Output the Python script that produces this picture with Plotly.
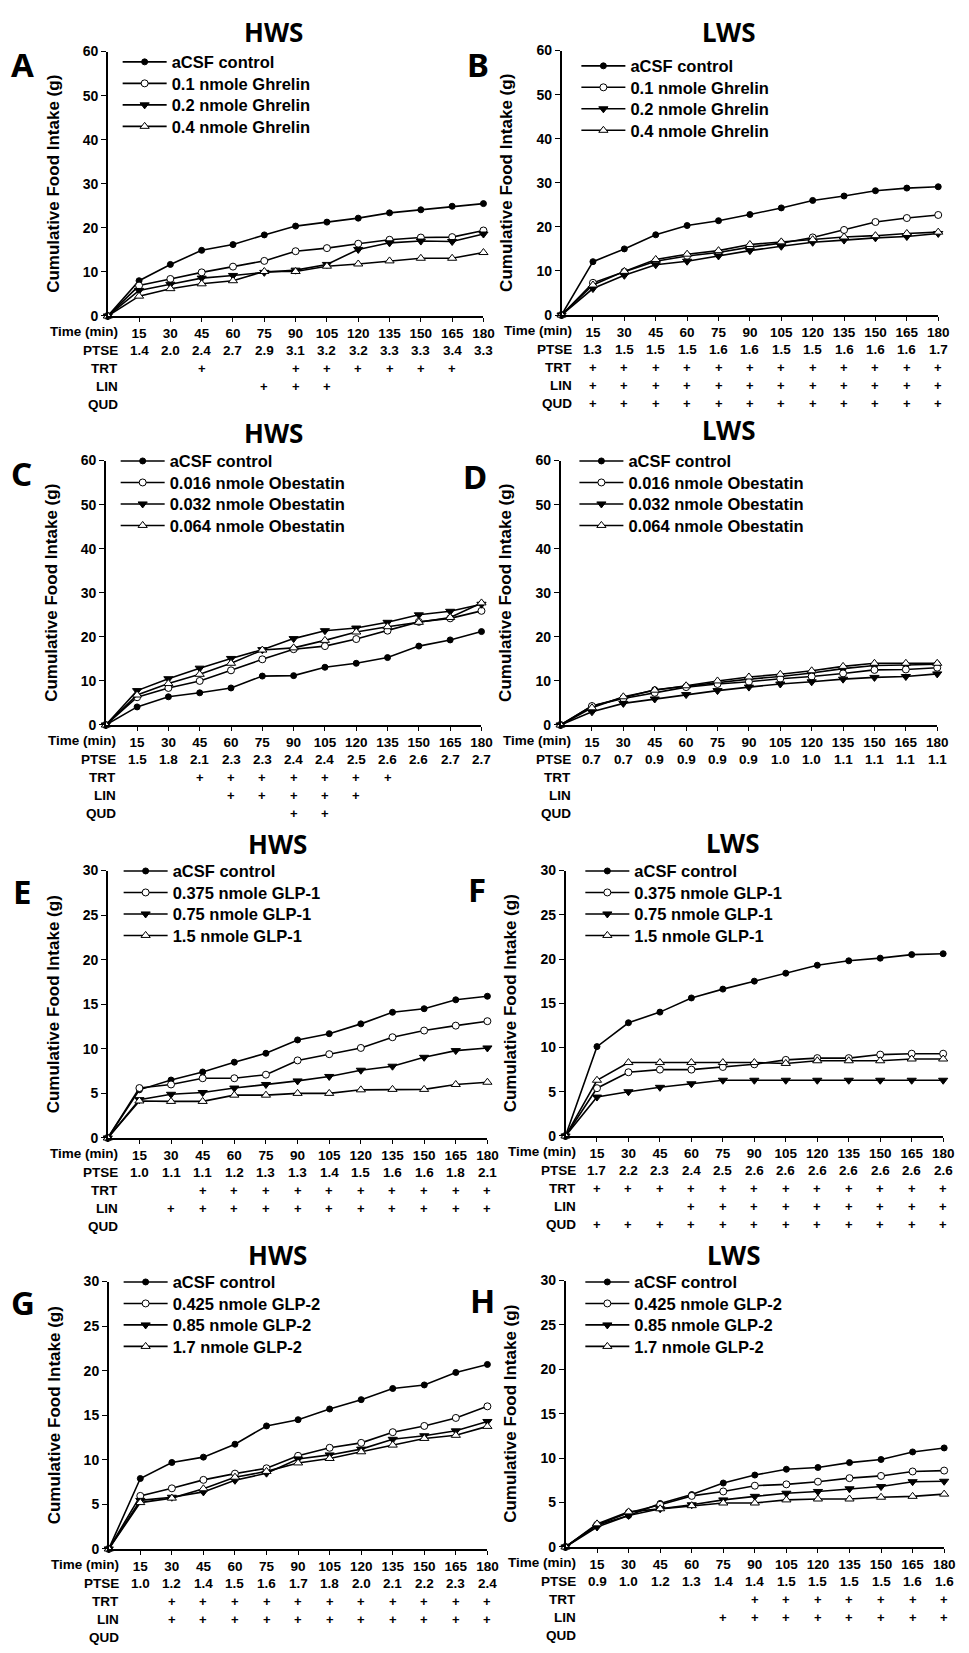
import plotly.graph_objects as go

W, H = 969, 1653

# ---------------- data ----------------
times = [0, 15, 30, 45, 60, 75, 90, 105, 120, 135, 150, 165, 180]
time_labels = ["15", "30", "45", "60", "75", "90", "105", "120", "135", "150", "165", "180"]
row_labels = ["Time (min)", "PTSE", "TRT", "LIN", "QUD"]

ghrelin_names = ["aCSF control", "0.1 nmole Ghrelin", "0.2 nmole Ghrelin", "0.4 nmole Ghrelin"]
obestatin_names = ["aCSF control", "0.016 nmole Obestatin", "0.032 nmole Obestatin", "0.064 nmole Obestatin"]
glp1_names = ["aCSF control", "0.375 nmole GLP-1", "0.75 nmole GLP-1", "1.5 nmole GLP-1"]
glp2_names = ["aCSF control", "0.425 nmole GLP-2", "0.85 nmole GLP-2", "1.7 nmole GLP-2"]

# Panel A (HWS, Ghrelin)
A_ctrl = [0, 8.0, 11.7, 14.9, 16.2, 18.4, 20.4, 21.3, 22.2, 23.4, 24.1, 24.9, 25.5]
A_d1 = [0, 6.9, 8.4, 9.9, 11.2, 12.5, 14.7, 15.4, 16.4, 17.3, 17.8, 17.9, 19.4]
A_d2 = [0, 5.8, 7.2, 8.6, 9.2, 9.9, 10.4, 11.7, 15.1, 16.6, 17.0, 16.9, 18.6]
A_d3 = [0, 4.5, 6.2, 7.3, 8.0, 10.1, 10.1, 11.3, 11.8, 12.5, 13.1, 13.1, 14.4]
A_ptse = ["1.4", "2.0", "2.4", "2.7", "2.9", "3.1", "3.2", "3.2", "3.3", "3.3", "3.4", "3.3"]
A_trt = [45, 90, 105, 120, 135, 150, 165]
A_lin = [75, 90, 105]
A_qud = []

# Panel B (LWS, Ghrelin)
B_ctrl = [0, 12.1, 15.0, 18.2, 20.3, 21.4, 22.8, 24.3, 26.0, 27.0, 28.2, 28.8, 29.1]
B_d1 = [0, 7.3, 9.8, 12.2, 13.4, 14.2, 15.4, 16.3, 17.6, 19.3, 21.1, 22.0, 22.7]
B_d2 = [0, 6.0, 9.0, 11.4, 12.2, 13.4, 14.6, 15.6, 16.5, 17.0, 17.5, 17.8, 18.5]
B_d3 = [0, 6.8, 9.9, 12.6, 13.8, 14.6, 16.0, 16.6, 17.1, 17.7, 18.0, 18.5, 18.8]
B_ptse = ["1.3", "1.5", "1.5", "1.5", "1.6", "1.6", "1.5", "1.5", "1.6", "1.6", "1.6", "1.7"]
B_trt = [15, 30, 45, 60, 75, 90, 105, 120, 135, 150, 165, 180]
B_lin = [15, 30, 45, 60, 75, 90, 105, 120, 135, 150, 165, 180]
B_qud = [15, 30, 45, 60, 75, 90, 105, 120, 135, 150, 165, 180]

# Panel C (HWS, Obestatin)
C_ctrl = [0, 4.1, 6.4, 7.3, 8.4, 11.1, 11.2, 13.1, 14.0, 15.3, 17.9, 19.3, 21.2]
C_d1 = [0, 6.3, 8.4, 10.0, 12.4, 14.9, 17.2, 17.9, 19.5, 21.4, 23.4, 24.2, 25.9]
C_d2 = [0, 7.8, 10.5, 12.9, 15.1, 17.1, 19.6, 21.4, 22.0, 23.3, 25.0, 25.8, 27.4]
C_d3 = [0, 6.8, 9.4, 11.5, 14.0, 17.0, 17.5, 19.2, 21.1, 22.3, 23.3, 24.4, 27.7]
C_ptse = ["1.5", "1.8", "2.1", "2.3", "2.3", "2.4", "2.4", "2.5", "2.6", "2.6", "2.7", "2.7"]
C_trt = [45, 60, 75, 90, 105, 120, 135]
C_lin = [60, 75, 90, 105, 120]
C_qud = [90, 105]

# Panel D (LWS, Obestatin)
D_ctrl = [0, 4.3, 6.2, 8.0, 8.8, 9.6, 10.4, 11.0, 11.8, 12.8, 13.5, 13.6, 13.8]
D_d1 = [0, 4.3, 6.0, 7.3, 8.6, 9.3, 9.8, 10.5, 11.0, 11.7, 12.5, 12.6, 13.0]
D_d2 = [0, 3.0, 4.9, 5.9, 6.9, 7.8, 8.6, 9.3, 9.8, 10.4, 10.8, 11.0, 11.6]
D_d3 = [0, 3.9, 6.4, 7.9, 8.9, 10.0, 10.9, 11.5, 12.3, 13.3, 14.0, 14.0, 14.0]
D_ptse = ["0.7", "0.7", "0.9", "0.9", "0.9", "0.9", "1.0", "1.0", "1.1", "1.1", "1.1", "1.1"]
D_trt = []
D_lin = []
D_qud = []

# Panel E (HWS, GLP-1)
E_ctrl = [0, 5.4, 6.5, 7.4, 8.5, 9.5, 11.0, 11.7, 12.8, 14.1, 14.5, 15.5, 15.9]
E_d1 = [0, 5.6, 6.0, 6.7, 6.7, 7.1, 8.7, 9.4, 10.1, 11.3, 12.05, 12.6, 13.1]
E_d2 = [0, 4.3, 4.9, 5.1, 5.6, 6.0, 6.4, 6.9, 7.6, 8.05, 9.05, 9.8, 10.1]
E_d3 = [0, 4.15, 4.1, 4.1, 4.8, 4.8, 5.0, 5.0, 5.4, 5.45, 5.45, 6.0, 6.25]
E_ptse = ["1.0", "1.1", "1.1", "1.2", "1.3", "1.3", "1.4", "1.5", "1.6", "1.6", "1.8", "2.1"]
E_trt = [45, 60, 75, 90, 105, 120, 135, 150, 165, 180]
E_lin = [30, 45, 60, 75, 90, 105, 120, 135, 150, 165, 180]
E_qud = []

# Panel F (LWS, GLP-1)
F_ctrl = [0, 10.1, 12.8, 14.0, 15.6, 16.6, 17.5, 18.4, 19.3, 19.8, 20.1, 20.5, 20.6]
F_d1 = [0, 5.4, 7.2, 7.5, 7.5, 7.8, 8.1, 8.6, 8.8, 8.8, 9.2, 9.3, 9.3]
F_d2 = [0, 4.4, 5.0, 5.5, 5.9, 6.3, 6.3, 6.3, 6.3, 6.3, 6.3, 6.3, 6.3]
F_d3 = [0, 6.3, 8.3, 8.3, 8.3, 8.3, 8.3, 8.2, 8.5, 8.5, 8.5, 8.7, 8.7]
F_ptse = ["1.7", "2.2", "2.3", "2.4", "2.5", "2.6", "2.6", "2.6", "2.6", "2.6", "2.6", "2.6"]
F_trt = [15, 30, 45, 60, 75, 90, 105, 120, 135, 150, 165, 180]
F_lin = [60, 75, 90, 105, 120, 135, 150, 165, 180]
F_qud = [15, 30, 45, 60, 75, 90, 105, 120, 135, 150, 165, 180]

# Panel G (HWS, GLP-2)
G_ctrl = [0, 7.9, 9.7, 10.3, 11.75, 13.8, 14.5, 15.7, 16.75, 18.0, 18.4, 19.8, 20.7]
G_d1 = [0, 5.95, 6.8, 7.75, 8.45, 9.05, 10.45, 11.35, 11.9, 13.1, 13.8, 14.7, 16.0]
G_d2 = [0, 5.45, 5.8, 6.4, 7.7, 8.5, 10.1, 10.55, 11.2, 12.3, 12.7, 13.25, 14.3]
G_d3 = [0, 5.2, 5.7, 6.75, 8.05, 8.7, 9.65, 10.15, 10.9, 11.65, 12.4, 12.75, 13.75]
G_ptse = ["1.0", "1.2", "1.4", "1.5", "1.6", "1.7", "1.8", "2.0", "2.1", "2.2", "2.3", "2.4"]
G_trt = [30, 45, 60, 75, 90, 105, 120, 135, 150, 165, 180]
G_lin = [30, 45, 60, 75, 90, 105, 120, 135, 150, 165, 180]
G_qud = []

# Panel H (LWS, GLP-2)
H_ctrl = [0, 2.45, 3.55, 4.9, 5.9, 7.2, 8.1, 8.75, 8.95, 9.5, 9.85, 10.7, 11.15]
H_d1 = [0, 2.5, 3.85, 4.75, 5.75, 6.25, 6.9, 7.05, 7.35, 7.75, 8.0, 8.5, 8.6]
H_d2 = [0, 2.25, 3.55, 4.3, 4.75, 5.3, 5.7, 6.05, 6.25, 6.55, 6.8, 7.35, 7.4]
H_d3 = [0, 2.6, 3.95, 4.3, 4.65, 4.95, 4.95, 5.3, 5.4, 5.4, 5.6, 5.7, 5.95]
H_ptse = ["0.9", "1.0", "1.2", "1.3", "1.4", "1.4", "1.5", "1.5", "1.5", "1.5", "1.6", "1.6"]
H_trt = [90, 105, 120, 135, 150, 165, 180]
H_lin = [75, 90, 105, 120, 135, 150, 165, 180]
H_qud = []

# ---------------- layout (pixel positions) ----------------
panels = [
    dict(letter="A", title="HWS", names=ghrelin_names, series=[A_ctrl, A_d1, A_d2, A_d3],
         ptse=A_ptse, marks=[A_trt, A_lin, A_qud], ymax=60, dtick=10,
         box=(109, 489, 44, 311), letter_xy=(23, 57), title_xy=(277, 24), leg_xy=(173, 55)),
    dict(letter="B", title="LWS", names=ghrelin_names, series=[B_ctrl, B_d1, B_d2, B_d3],
         ptse=B_ptse, marks=[B_trt, B_lin, B_qud], ymax=60, dtick=10,
         box=(568, 949, 43, 310), letter_xy=(483, 57), title_xy=(737, 24), leg_xy=(637, 59)),
    dict(letter="C", title="HWS", names=obestatin_names, series=[C_ctrl, C_d1, C_d2, C_d3],
         ptse=C_ptse, marks=[C_trt, C_lin, C_qud], ymax=60, dtick=10,
         box=(107, 487, 457, 724), letter_xy=(22, 470), title_xy=(277, 429), leg_xy=(171, 458)),
    dict(letter="D", title="LWS", names=obestatin_names, series=[D_ctrl, D_d1, D_d2, D_d3],
         ptse=D_ptse, marks=[D_trt, D_lin, D_qud], ymax=60, dtick=10,
         box=(567, 948, 457, 724), letter_xy=(480, 473), title_xy=(737, 426), leg_xy=(635, 458)),
    dict(letter="E", title="HWS", names=glp1_names, series=[E_ctrl, E_d1, E_d2, E_d3],
         ptse=E_ptse, marks=[E_trt, E_lin, E_qud], ymax=30, dtick=5,
         box=(109, 493, 871, 1141), letter_xy=(22, 892), title_xy=(281, 844), leg_xy=(174, 872)),
    dict(letter="F", title="LWS", names=glp1_names, series=[F_ctrl, F_d1, F_d2, F_d3],
         ptse=F_ptse, marks=[F_trt, F_lin, F_qud], ymax=30, dtick=5,
         box=(572, 954, 871, 1139), letter_xy=(482, 890), title_xy=(741, 843), leg_xy=(641, 872)),
    dict(letter="G", title="HWS", names=glp2_names, series=[G_ctrl, G_d1, G_d2, G_d3],
         ptse=G_ptse, marks=[G_trt, G_lin, G_qud], ymax=30, dtick=5,
         box=(110, 493, 1286, 1556), letter_xy=(23, 1307), title_xy=(281, 1259), leg_xy=(174, 1287)),
    dict(letter="H", title="LWS", names=glp2_names, series=[H_ctrl, H_d1, H_d2, H_d3],
         ptse=H_ptse, marks=[H_trt, H_lin, H_qud], ymax=30, dtick=5,
         box=(572, 955, 1285, 1554), letter_xy=(488, 1305), title_xy=(742, 1259), leg_xy=(641, 1287)),
]

marker_styles = [
    dict(symbol="circle", size=6, color="black", line=dict(color="black", width=1)),
    dict(symbol="circle", size=7, color="white", line=dict(color="black", width=1)),
    dict(symbol="triangle-down", size=8, color="black", line=dict(color="black", width=1)),
    dict(symbol="triangle-up", size=8, color="white", line=dict(color="black", width=1)),
]

FONT = "Liberation Sans, Arial, sans-serif"
HEAD_FONT = "Noto Sans, Open Sans, sans-serif"
row_offsets = [16, 34.5, 52.5, 70.5, 89]
LEG_ROW = 21.7
LEG_ITEM_W = 44


def px_x(x):
    return x / W


def px_y(y):
    return 1 - y / H


fig = go.Figure()
annotations = []
layout = {}

for i, p in enumerate(panels):
    n = i + 1
    xa = "x" if n == 1 else f"x{n}"
    ya = "y" if n == 1 else f"y{n}"
    x0, x1, y0, y1 = p["box"]
    lx, ly = p["leg_xy"]

    for k, (vals, name, ms) in enumerate(zip(p["series"], p["names"], marker_styles)):
        L = i * 4 + k + 1
        leg = "legend" if L == 1 else f"legend{L}"
        fig.add_trace(go.Scatter(
            x=times, y=vals, name=name, mode="lines+markers",
            line=dict(color="black", width=1.6), marker=ms,
            xaxis=xa, yaxis=ya, legend=leg, cliponaxis=False,
        ))
        layout[leg] = dict(
            x=px_x(lx - LEG_ITEM_W - 10), y=px_y(ly + k * LEG_ROW - 18), xanchor="left", yanchor="top",
            bgcolor="rgba(0,0,0,0)", borderwidth=0, itemwidth=LEG_ITEM_W,
            font=dict(family=FONT, size=16.5, color="black", weight="bold"),
        )

    layout["xaxis" if n == 1 else f"xaxis{n}"] = dict(
        domain=[px_x(x0), px_x(x1)], anchor=ya, range=[0, 180],
        tickvals=times[1:], ticktext=time_labels, ticks="outside", ticklen=4,
        tickwidth=1.3, tickcolor="black", showline=True, linewidth=1.5, linecolor="black",
        showgrid=False, zeroline=False,
        tickfont=dict(family=FONT, size=13.5, color="black", weight="bold"),
    )
    layout["yaxis" if n == 1 else f"yaxis{n}"] = dict(
        domain=[px_y(y1), px_y(y0)], anchor=xa, range=[0, p["ymax"]], dtick=p["dtick"],
        ticks="outside", ticklen=5, tickwidth=1.3, tickcolor="black",
        showline=True, linewidth=1.5, linecolor="black", showgrid=False, zeroline=False,
        tickfont=dict(family=FONT, size=14, color="black", weight="bold"),
        title=dict(text="Cumulative Food Intake (g)", standoff=19,
                   font=dict(family=FONT, size=17, color="black", weight="bold")),
    )

    annotations.append(dict(x=px_x(p["letter_xy"][0]), y=px_y(p["letter_xy"][1]), xref="paper", yref="paper",
                            text=p["letter"], showarrow=False, xanchor="center", yanchor="middle",
                            font=dict(family=HEAD_FONT, size=33, color="black", weight="bold")))
    annotations.append(dict(x=px_x(p["title_xy"][0]), y=px_y(p["title_xy"][1]), xref="paper", yref="paper",
                            text=p["title"], showarrow=False, xanchor="center", yanchor="middle",
                            font=dict(family=HEAD_FONT, size=26, color="black", weight="bold")))

    for r, lab in enumerate(row_labels):
        annotations.append(dict(x=0, y=0, xref=xa, yref=f"{ya} domain", text=lab, showarrow=False,
                                xanchor="right", yanchor="middle", xshift=12, yshift=-row_offsets[r],
                                font=dict(family=FONT, size=13.5, color="black", weight="bold")))
    for t, v in zip(times[1:], p["ptse"]):
        annotations.append(dict(x=t, y=0, xref=xa, yref=f"{ya} domain", text=v, showarrow=False,
                                xanchor="center", yanchor="middle", yshift=-row_offsets[1],
                                font=dict(family=FONT, size=13.5, color="black", weight="bold")))
    for r, tlist in enumerate(p["marks"]):
        for t in tlist:
            annotations.append(dict(x=t, y=0, xref=xa, yref=f"{ya} domain", text="+", showarrow=False,
                                    xanchor="center", yanchor="middle", yshift=-row_offsets[r + 2],
                                    font=dict(family=FONT, size=13, color="black", weight="bold")))

fig.update_layout(
    width=W, height=H, margin=dict(l=0, r=0, t=0, b=0),
    paper_bgcolor="white", plot_bgcolor="white", showlegend=True,
    font=dict(family=FONT, color="black"),
    annotations=annotations, **layout,
)

fig.write_html("out.html", config={"displayModeBar": False},
               post_script="document.body.style.margin='0';")
